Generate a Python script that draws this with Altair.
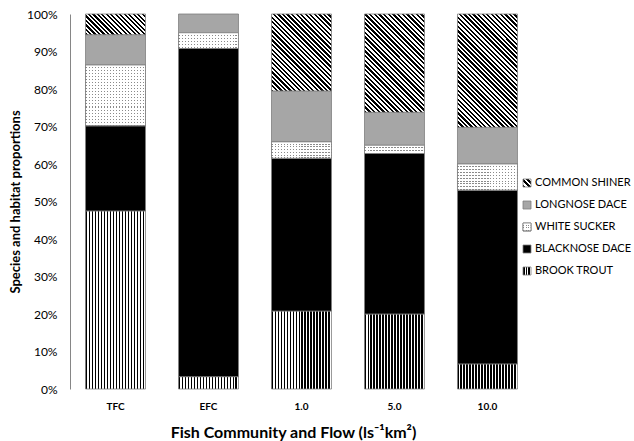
import altair as alt

# ---------------- data ----------------
categories = ["TFC", "EFC", "1.0", "5.0", "10.0"]
series = ["BROOK TROUT", "BLACKNOSE DACE", "WHITE SUCKER", "LONGNOSE DACE", "COMMON SHINER"]
brook_trout = [47.5, 3.3, 20.8, 20.0, 6.7]
blacknose_dace = [22.7, 87.5, 40.7, 42.8, 46.3]
white_sucker = [16.2, 4.2, 4.4, 2.2, 7.0]
longnose_dace = [8.1, 5.0, 13.6, 8.8, 9.8]
common_shiner = [5.5, 0.0, 20.5, 26.2, 30.2]
y_ticks = [0, 10, 20, 30, 40, 50, 60, 70, 80, 90, 100]
legend_order = ["COMMON SHINER", "LONGNOSE DACE", "WHITE SUCKER", "BLACKNOSE DACE", "BROOK TROUT"]

values_by_series = {
    "BROOK TROUT": brook_trout,
    "BLACKNOSE DACE": blacknose_dace,
    "WHITE SUCKER": white_sucker,
    "LONGNOSE DACE": longnose_dace,
    "COMMON SHINER": common_shiner,
}

# ---------------- styling helpers (pattern fills as hard-stop gradients) ----------------
PLOT_W, PLOT_H = 463, 375
BAR_W = 60
PX_PER_PCT = PLOT_H / 100.0
STROKE = "#7f7f7f"
FONT = "Lato"


def _stop(o, c):
    return {"offset": round(min(max(o, 0), 1), 5), "color": c}


def _stripes(n, c1, c2, frac):
    stops = []
    for i in range(n):
        stops += [_stop(i / n, c1), _stop((i + frac) / n, c1),
                  _stop((i + frac) / n, c2), _stop((i + 1) / n, c2)]
    return stops


def vstripes(w, period, c1, c2, frac):
    n = max(1, round(w / period))
    return {"gradient": "linear", "x1": 0, "y1": 0, "x2": 1, "y2": 0,
            "stops": _stripes(n, c1, c2, frac)}


def hstripes(h, period, c1, c2, frac):
    n = max(1, round(h / period))
    return {"gradient": "linear", "x1": 0, "y1": 0, "x2": 0, "y2": 1,
            "stops": _stripes(n, c1, c2, frac)}


def diag(w, h, period, c1, c2, frac):
    a = h / w
    s = (1 + a) / (1 + a * a)
    n = max(1, round((w + h) / period))
    return {"gradient": "linear", "x1": 0, "y1": 1, "x2": round(s, 5), "y2": round(1 - s * a, 5),
            "stops": _stripes(n, c1, c2, frac)}


def fill_for(name, w, h):
    if name == "BROOK TROUT":
        return vstripes(w, 3, "#000000", "#ffffff", 0.6)
    if name == "BLACKNOSE DACE":
        return "#000000"
    if name == "WHITE SUCKER":
        return vstripes(w, 3, "#8a8a8a", "#ffffff", 0.34)
    if name == "LONGNOSE DACE":
        return "#a6a6a6"
    return diag(w, h, 4.6, "#000000", "#ffffff", 0.5)


def overlay_for(name, h):
    if name == "WHITE SUCKER":
        return hstripes(h, 3, "#ffffff", "rgba(255,255,255,0)", 0.66)
    return None


# ---------------- build rows ----------------
rows, overlay_rows = [], []
for i, cat in enumerate(categories):
    cum = 0.0
    for s in series:
        v = values_by_series[s][i]
        if v <= 0:
            continue
        h = v * PX_PER_PCT
        row = {"category": cat, "series": s, "y0": cum, "y1": cum + v,
               "fill": fill_for(s, BAR_W, h)}
        rows.append(row)
        ov = overlay_for(s, h)
        if ov is not None:
            overlay_rows.append({"category": cat, "series": s, "y0": cum, "y1": cum + v, "overlay": ov})
        cum += v

legend_rows = []
legend_overlay_rows = []
for s in legend_order:
    legend_rows.append({"series": s, "fill": fill_for(s, 8, 8) if s != "BROOK TROUT" else vstripes(8, 2.7, "#000000", "#ffffff", 0.6)})
    ov = overlay_for(s, 8)
    if ov is not None:
        legend_overlay_rows.append({"series": s, "overlay": hstripes(8, 2.7, "#ffffff", "rgba(255,255,255,0)", 0.6)})

# ---------------- encodings ----------------
x_enc = alt.X(
    "category:N", sort=categories,
    scale=alt.Scale(paddingInner=0.355, paddingOuter=0.167),
    axis=alt.Axis(domain=False, ticks=False, labelAngle=0, labelFont=FONT, labelFontSize=10,
                  labelFontWeight="bold", labelColor="#000000", labelPadding=12,
                  title="Fish Community and Flow (ls\u207b\u00b9km\u00b2)", titleFont=FONT,
                  titleFontSize=16, titleFontWeight="bold", titleColor="#000000", titlePadding=13,
                  titleX=223),
)
y_enc = alt.Y(
    "y0:Q", scale=alt.Scale(domain=[0, 100], nice=False),
    axis=alt.Axis(values=y_ticks, labelExpr="datum.value + '%'", ticks=False, grid=False,
                  domainColor="#868686", domainWidth=1, labelFont=FONT, labelFontSize=12,
                  labelColor="#000000", labelPadding=13,
                  title="Species and habitat proportions", titleFont=FONT, titleFontSize=13,
                  titleFontWeight="bold", titleColor="#000000", titlePadding=4),
)

base = alt.Chart(alt.Data(values=rows)).mark_bar(stroke=STROKE, strokeWidth=0.8).encode(
    x=x_enc, y=y_enc, y2="y1:Q",
    fill=alt.Fill("fill:N", scale=None, legend=None),
)
over = alt.Chart(alt.Data(values=overlay_rows)).mark_bar(stroke=STROKE, strokeWidth=0.8).encode(
    x=x_enc, y=y_enc, y2="y1:Q",
    fill=alt.Fill("overlay:N", scale=None, legend=None),
)
bars = alt.layer(base, over)

leg_y = alt.Y("series:N", sort=legend_order,
              scale=alt.Scale(type="point", range=[169, 257], padding=0), axis=None)
leg_sq = alt.Chart(alt.Data(values=legend_rows)).mark_square(
    size=64, opacity=1, stroke=STROKE, strokeWidth=0.8).encode(
    x=alt.value(457), y=leg_y, fill=alt.Fill("fill:N", scale=None, legend=None))
leg_ov = alt.Chart(alt.Data(values=legend_overlay_rows)).mark_square(
    size=64, opacity=1, stroke=STROKE, strokeWidth=0.8).encode(
    x=alt.value(457), y=leg_y, fill=alt.Fill("overlay:N", scale=None, legend=None))
leg_tx = alt.Chart(alt.Data(values=legend_rows)).mark_text(
    align="left", baseline="middle", font=FONT, fontSize=11, color="#000000").encode(
    x=alt.value(465), y=leg_y, text="series:N")
legend = alt.layer(leg_sq, leg_ov, leg_tx)

chart = alt.layer(bars, legend).resolve_scale(y="independent").properties(
    width=PLOT_W, height=PLOT_H,
    padding={"left": 70, "top": 14, "right": 634 - 70 - PLOT_W, "bottom": 441 - 14 - PLOT_H},
    autosize=alt.AutoSizeParams(type="none"),
    background="#ffffff",
).configure_view(stroke=None)

chart.save("out.html", embed_options={"renderer": "svg", "actions": False})
